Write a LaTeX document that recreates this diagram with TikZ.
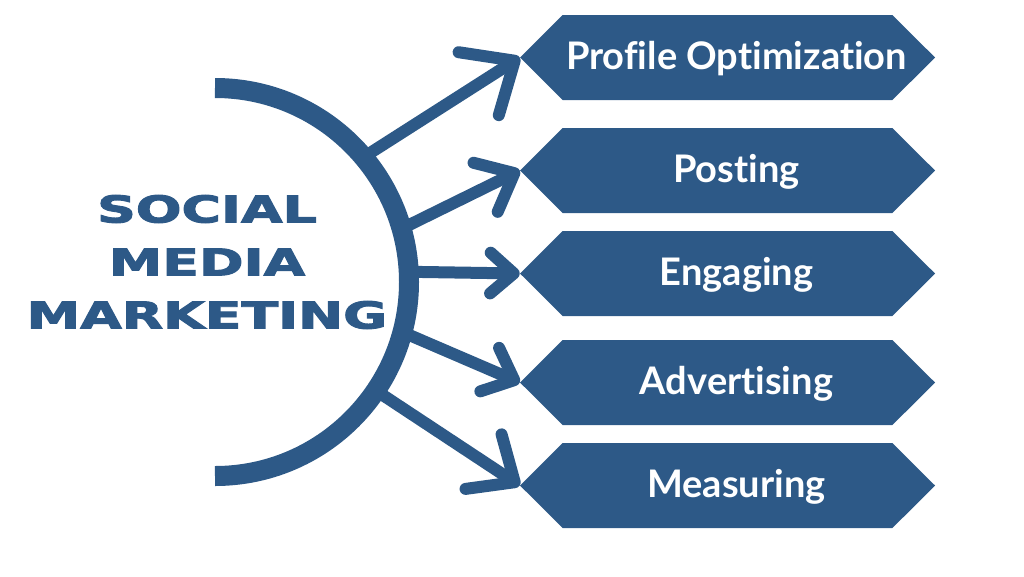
\documentclass[tikz,border=0pt]{standalone}
\usepackage{fontspec}
\usepackage{graphicx}
\usepackage{xcolor}
\usetikzlibrary{arrows.meta}
\newfontfamily\titlefont{DejaVu Sans}[BoldFeatures={FakeBold=2.4}]
\newfontfamily\boxfont{Lato}[Ligatures=CommonOff]
\definecolor{smmblue}{RGB}{45,89,135}

\begin{document}
\begin{tikzpicture}[x=0.75pt,y=0.75pt,yscale=-1,xscale=1,
  hexbox/.style={minimum width=311.25pt, minimum height=63.75pt, inner sep=0pt, text=white,
    text height=21.5pt, text depth=4pt,
    font=\boxfont\bfseries\fontsize{28.5}{30}\selectfont,
    path picture={\fill[smmblue] (path picture bounding box.west)
      -- ([xshift=31.9pt]path picture bounding box.north west)
      -- ([xshift=-31.9pt]path picture bounding box.north east)
      -- (path picture bounding box.east)
      -- ([xshift=-31.9pt]path picture bounding box.south east)
      -- ([xshift=31.9pt]path picture bounding box.south west) -- cycle;}},
  link/.style 2 args={draw=smmblue, line width=9pt,
    -{Straight Barb[length=#1pt, width=#2pt, round]}}]
\useasboundingbox (0,0) rectangle (1024,576);

%Text Node: title
\node [text=smmblue, align=center, font=\titlefont\bfseries\fontsize{27.8}{39.75}\selectfont] (title) at (207,262)
  {\scalebox{1.45}[1]{SOCIAL}\\\scalebox{1.45}[1]{MEDIA}\\\scalebox{1.45}[1]{MARKETING}};

%Shape: Hexagons
\node [hexbox] (profile) at (727.5,57.5) {\hspace*{13.5pt}Profile Optimization};
\node [hexbox] (posting) at (727.5,170.5) {\hspace*{13.5pt}Posting};
\node [hexbox] (engaging) at (727.5,273.5) {\hspace*{13.5pt}Engaging};
\node [hexbox] (advert) at (727.5,382.5) {\hspace*{13.5pt}Advertising};
\node [hexbox] (measure) at (727.5,485.5) {\hspace*{13.5pt}Measuring};

%Coordinates on the arc
\coordinate (o) at (215,282);
\coordinate (s1) at ([shift={(-40:195)}]o);
\coordinate (s2) at ([shift={(-16:195)}]o);
\coordinate (s3) at ([shift={(-3:195)}]o);
\coordinate (s4) at ([shift={(15:195)}]o);
\coordinate (s5) at ([shift={(34:195)}]o);

%Arrows
\draw [link={32}{56}] (s1) -- (profile.west);
\draw [link={24}{41}] (s2) -- (posting.west);
\draw [link={17.5}{30.5}] (s3) -- (engaging.west);
\draw [link={20}{35.5}] (s4) -- (advert.west);
\draw [link={28}{49}] (s5) -- (measure.west);

%Shape: Arc
\draw [smmblue, line width=15pt] (215,88) arc [start angle=-90, end angle=90, radius=194];

\end{tikzpicture}
\end{document}
